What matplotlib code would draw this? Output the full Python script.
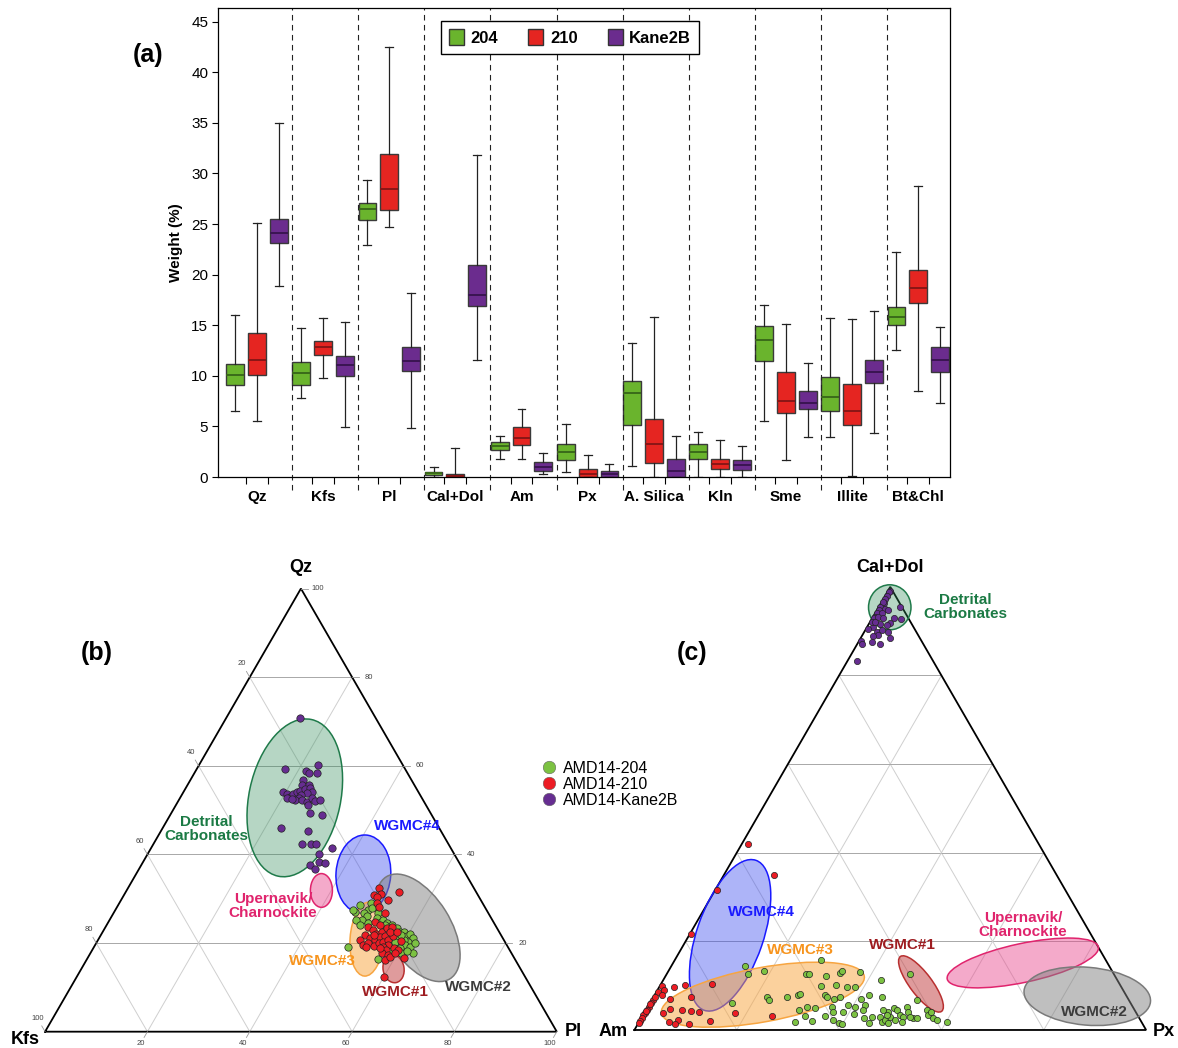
import matplotlib
matplotlib.use('Agg')
import matplotlib.pyplot as plt
from matplotlib.patches import Ellipse, Patch
from matplotlib.lines import Line2D
import numpy as np

plt.rcParams['font.family'] = ['Liberation Sans', 'DejaVu Sans']

W, H = 1178, 1048

# ---------------- (a) box plot data (Weight %) ----------------
minerals = ['Qz', 'Kfs', 'Pl', 'Cal+Dol', 'Am', 'Px', 'A. Silica', 'Kln', 'Sme', 'Illite', 'Bt&Chl']
series = ['204', '210', 'Kane2B']
box_colors = ['#6ab42d', '#e52521', '#6b2c8e']
median_colors = ['#3a6a1a', '#8a1616', '#3a1552']

lo_204 = [6.5, 7.8, 22.9, 0.0, 1.8, 0.5, 1.1, 0.0, 5.5, 4.0, 12.6]
q1_204 = [9.1, 9.1, 25.4, 0.2, 2.7, 1.7, 5.1, 1.8, 11.5, 6.5, 15.0]
med_204 = [10.1, 10.3, 26.5, 0.35, 3.1, 2.5, 8.3, 2.5, 13.5, 7.9, 15.8]
q3_204 = [11.2, 11.4, 27.1, 0.5, 3.5, 3.3, 9.5, 3.3, 14.9, 9.9, 16.8]
hi_204 = [16.0, 14.7, 29.4, 1.0, 4.1, 5.2, 13.2, 4.4, 17.0, 15.7, 22.2]

lo_210 = [5.5, 9.8, 24.7, 0.0, 1.8, 0.0, 0.0, 0.0, 1.7, 0.1, 8.5]
q1_210 = [10.1, 12.1, 26.4, 0.0, 3.2, 0.0, 1.4, 0.8, 6.3, 5.1, 17.2]
med_210 = [11.6, 12.8, 28.5, 0.1, 3.9, 0.3, 3.3, 1.3, 7.5, 6.5, 18.7]
q3_210 = [14.2, 13.4, 31.9, 0.3, 4.9, 0.8, 5.7, 1.8, 10.4, 9.2, 20.5]
hi_210 = [25.1, 15.7, 42.5, 2.9, 6.7, 2.2, 15.8, 3.7, 15.1, 15.6, 28.8]

lo_kane = [18.9, 4.9, 4.8, 11.6, 0.3, 0.0, 0.0, 0.0, 4.0, 4.3, 7.3]
q1_kane = [23.1, 10.0, 10.5, 16.9, 0.6, 0.0, 0.0, 0.7, 6.7, 9.3, 10.4]
med_kane = [24.1, 11.1, 11.5, 18.0, 1.0, 0.3, 0.6, 1.2, 7.3, 10.4, 11.6]
q3_kane = [25.5, 12.0, 12.8, 21.0, 1.5, 0.6, 1.8, 1.7, 8.5, 11.6, 12.8]
hi_kane = [35.0, 15.3, 18.2, 31.8, 2.4, 1.3, 4.1, 3.1, 11.3, 16.4, 14.8]

# ---------------- (b) Qz - Kfs - Pl ternary (Qz %, Pl %; Kfs = rest) ----------------
b_kane_qz = [70.9, 59.2, 60.1, 58.8, 58.4, 58.4, 56.8, 55.6, 55.6, 54.2, 53.6, 53.0, 53.6, 54.0, 54.4,
             54.7, 54.9, 54.2, 53.8, 53.4, 52.7, 52.3, 52.3, 51.9, 52.7, 52.1, 52.3, 51.2, 52.7, 52.4,
             49.3, 48.8, 46.0, 45.4, 42.4, 42.4, 42.4, 41.4, 40.2, 38.3, 38.1, 37.7, 36.6]
b_kane_pl = [14.4, 17.2, 23.2, 21.6, 22.4, 24.0, 22.0, 22.5, 23.8, 19.3, 20.4, 21.4, 21.7, 22.2, 22.6,
             23.5, 24.3, 25.0, 24.2, 23.4, 23.2, 22.7, 24.0, 25.2, 25.8, 26.7, 27.6, 25.7, 20.9, 22.0,
             27.1, 29.7, 23.2, 28.6, 29.0, 30.8, 31.8, 35.4, 33.4, 34.3, 35.7, 32.9, 34.5]

b_210_qz = [32.4, 30.9, 31.0, 30.3, 31.5, 29.7, 29.0, 28.1, 26.7, 24.8, 24.1, 23.7, 22.9, 22.1, 22.6,
            23.3, 23.7, 21.8, 21.1, 20.7, 21.3, 21.6, 20.7, 19.6, 20.0, 19.4, 20.0, 20.3, 20.7, 21.5,
            19.6, 19.0, 18.4, 18.8, 18.4, 17.7, 17.3, 16.6, 16.2, 16.9, 17.7, 19.0, 12.3, 20.5, 21.8,
            22.6, 22.6, 18.8]
b_210_pl = [49.0, 48.9, 50.1, 49.8, 53.5, 52.2, 50.3, 51.3, 53.1, 52.0, 53.4, 51.3, 52.7, 53.7, 54.5,
            55.1, 55.9, 51.6, 52.9, 54.1, 54.8, 55.7, 51.2, 52.4, 53.2, 54.5, 55.2, 55.9, 56.7, 57.3,
            57.3, 56.5, 57.5, 58.7, 59.8, 56.9, 58.4, 61.8, 58.4, 58.9, 59.5, 53.3, 60.1, 59.4, 53.4,
            56.1, 57.5, 56.1]

b_204_qz = [29.0, 27.5, 26.7, 26.0, 25.2, 25.1, 24.1, 27.8, 26.7, 25.6, 24.8, 25.2, 24.6, 24.1, 23.3,
            22.6, 22.4, 21.6, 22.1, 21.1, 20.3, 20.7, 21.1, 20.3, 19.6, 19.0, 17.8, 18.8, 18.4, 18.4,
            17.7, 18.1, 19.0, 16.3, 22.6, 24.1, 20.0, 21.8, 27.1, 27.5, 28.6, 24.5]
b_204_pl = [49.2, 49.4, 49.0, 49.9, 49.3, 48.3, 49.5, 49.9, 51.8, 52.0, 53.3, 53.5, 54.5, 55.7, 57.1,
            58.1, 58.9, 59.9, 60.3, 61.4, 60.8, 59.7, 58.5, 58.2, 60.6, 61.8, 63.0, 60.0, 59.1, 58.1,
            60.8, 61.6, 49.7, 57.0, 56.5, 54.4, 62.3, 58.7, 47.0, 46.5, 47.3, 50.9]

# ---------------- (c) Cal+Dol - Am - Px ternary (Cal+Dol %, Px %; Am = rest) ----------------
c_kane_cal = [99.0, 98.9, 98.0, 97.3, 96.3, 96.5, 95.5, 94.8, 94.0, 93.3, 92.9, 95.1, 94.8, 94.0, 93.3,
              92.9, 92.9, 95.5, 92.7, 91.8, 91.4, 91.5, 91.0, 90.5, 89.9, 90.3, 89.9, 88.5, 89.1, 88.8,
              87.2, 87.6, 87.8, 87.2, 83.3, 92.1, 92.1]
c_kane_px = [0.5, 0.3, 0.4, 0.4, 0.6, 0.3, 0.3, 0.4, 0.4, 0.4, 0.4, 1.4, 2.2, 1.3, 1.0,
             2.2, 4.2, 4.1, 5.7, 4.1, 3.6, 2.2, 1.2, 0.4, 2.4, 3.2, 4.7, 5.7, 3.1, 2.3,
             4.4, 2.6, 0.4, 0.8, 1.8, 0.4, 1.0]

c_210_cal = [42.0, 35.0, 31.7, 21.7, 10.3, 10.0, 9.8, 9.0, 8.5, 8.0, 10.1, 7.1, 7.4, 6.8, 6.2,
             5.3, 4.5, 3.9, 3.3, 2.6, 2.1, 3.9, 4.7, 4.4, 4.3, 4.1, 3.9, 1.9, 2.3, 1.4,
             1.4, 2.1, 3.2, 5.8, 4.2, 7.5, 1.5]
c_210_px = [1.2, 9.7, 0.3, 0.3, 10.1, 0.3, 2.9, 1.3, 0.3, 1.3, 4.9, 3.5, 7.4, 0.3, 0.2,
            0.2, 0.2, 0.1, 0.1, 0.1, 0.1, 3.6, 4.7, 7.1, 8.9, 10.5, 17.7, 5.8, 7.3, 7.3,
            10.0, 13.7, 25.2, 0.2, 0.2, 0.3, 0.1]

c_204_cal = [14.5, 12.6, 13.4, 6.2, 7.5, 6.8, 7.5, 7.9, 8.1, 12.6, 12.6, 4.5, 5.3, 3.2, 1.7, 2.0,
             15.7, 12.2, 12.8, 13.2, 13.0, 11.3, 12.6, 9.9, 10.2, 9.8, 9.6, 7.9, 7.4, 6.9, 7.5,
             5.6, 5.3, 6.9, 7.9, 5.6, 7.5, 6.8, 4.9, 5.3, 4.1, 4.1, 3.6, 4.4, 2.6, 3.0,
             2.9, 2.3, 1.5, 1.4, 3.2, 1.5, 1.9, 2.3, 4.1, 4.9, 4.5, 3.0, 2.3, 3.4, 3.0,
             5.3, 4.1, 2.6, 3.0, 4.5, 3.4, 4.1, 2.6, 2.3, 1.9, 4.5, 3.4, 1.9, 1.5, 2.8]
c_204_px = [14.4, 15.8, 18.6, 15.9, 22.1, 22.9, 26.0, 28.1, 28.3, 27.2, 27.9, 29.9, 31.0, 31.8, 30.5, 33.8,
            28.6, 31.3, 33.7, 33.9, 37.5, 42.5, 47.6, 31.6, 34.3, 36.6, 38.3, 33.3, 33.9, 35.5, 36.4,
            39.0, 40.5, 40.9, 41.8, 42.2, 44.6, 51.8, 32.8, 35.9, 36.8, 38.8, 41.1, 42.4, 43.6, 44.9,
            46.6, 37.7, 39.3, 39.8, 35.7, 45.0, 47.4, 47.8, 47.6, 48.2, 49.0, 48.4, 49.8, 50.2, 51.0,
            50.6, 51.5, 53.2, 52.4, 54.9, 55.7, 56.0, 57.1, 57.9, 60.1, 46.4, 47.6, 51.3, 48.9, 53.8]

sample_labels = ['AMD14-204', 'AMD14-210', 'AMD14-Kane2B']


def fpos(x, y):
    return x / W, 1 - y / H


def tern_xy(top, right):
    top = np.asarray(top, float)
    right = np.asarray(right, float)
    return right + top / 2.0, top * np.sqrt(3) / 2.0


fig = plt.figure(figsize=(W / 100, H / 100), dpi=100)

# ================= (a) =================
ax = fig.add_axes([218 / W, 1 - 477 / H, 732 / W, 469 / H])
offsets = [-0.33, 0.0, 0.33]
all_stats = [(lo_204, q1_204, med_204, q3_204, hi_204),
             (lo_210, q1_210, med_210, q3_210, hi_210),
             (lo_kane, q1_kane, med_kane, q3_kane, hi_kane)]
centers = np.arange(len(minerals))
for k, (lo, q1, med, q3, hi) in enumerate(all_stats):
    stats = [dict(whislo=lo[i], q1=q1[i], med=med[i], q3=q3[i], whishi=hi[i], fliers=[])
             for i in range(len(minerals))]
    ax.bxp(stats, positions=centers + offsets[k], widths=0.27, patch_artist=True,
           showfliers=False, capwidths=0.12, manage_ticks=False,
           boxprops=dict(facecolor=box_colors[k], edgecolor='#3a3a3a', linewidth=1.0),
           medianprops=dict(color=median_colors[k], linewidth=1.4),
           whiskerprops=dict(color='#222222', linewidth=0.9),
           capprops=dict(color='#222222', linewidth=0.9))

for i in range(len(minerals) - 1):
    ax.axvline(i + 0.53, ymin=-0.028, ymax=1, color='#222222', lw=0.8, ls=(0, (5, 4)), clip_on=False)

ax.set_xlim(-0.59, 10.48)
ax.set_ylim(0, 46.35)
ax.set_yticks(np.arange(0, 46, 5))
ax.tick_params(axis='y', labelsize=11, length=4, width=0.8, pad=3)
ax.set_xticks(np.concatenate([centers - 0.165, centers + 0.165]))
ax.set_xticklabels([])
ax.tick_params(axis='x', which='major', length=5, width=0.8)
ax.set_xticks(centers, minor=True)
ax.set_xticklabels(minerals, minor=True, fontweight='bold', fontsize=11)
ax.tick_params(axis='x', which='minor', length=0, pad=9)
ax.set_ylabel('Weight (%)', fontweight='bold', fontsize=11, labelpad=6)
for s in ax.spines.values():
    s.set_linewidth(0.9)

handles = [Patch(facecolor=c, edgecolor='#333333') for c in box_colors]
ax.legend(handles, series, loc='upper center', bbox_to_anchor=(0.481, 0.99), ncol=3,
          frameon=True, fancybox=False, edgecolor='black', framealpha=1,
          prop={'weight': 'bold', 'size': 12}, handlelength=0.9, handleheight=1.1,
          handletextpad=0.4, columnspacing=1.8, borderpad=0.5)
fig.text(*fpos(148, 55), '(a)', fontsize=18, fontweight='bold', ha='center', va='center')


# ================= ternary helpers =================
def draw_ternary(ax, with_ticks):
    for f in (20, 40, 60, 80):
        for (t0, r0), (t1, r1) in [((f, 0), (f, 100 - f)),
                                   ((0, f), (100 - f, f)),
                                   ((0, 100 - f), (100 - f, 0))]:
            x0, y0 = tern_xy(t0, r0)
            x1, y1 = tern_xy(t1, r1)
            col = '#a8a8a8' if t0 == t1 else '#cfcfcf'
            ax.plot([x0, x1], [y0, y1], color=col, lw=0.7, zorder=1)
    tx, ty = tern_xy([0, 0, 100, 0], [0, 100, 0, 0])
    ax.plot(tx, ty, color='black', lw=1.3, zorder=2, solid_joinstyle='miter')
    if with_ticks:
        h = np.sqrt(3) / 2
        for f in (20, 40, 60, 80, 100):
            # right edge: top values
            x, y = tern_xy(f, 100 - f)
            d = np.array([1.0, 0.0])
            ax.plot([x, x + 1.3 * d[0]], [y, y + 1.3 * d[1]], color='#999999', lw=0.6)
            ax.text(x + 3.3 * d[0], y + 3.3 * d[1], str(f), fontsize=5.5, color='#444444',
                    ha='center', va='center')
            # left edge: left values
            x, y = tern_xy(100 - f, 0)
            d = np.array([-0.5, h])
            ax.plot([x, x + 1.3 * d[0]], [y, y + 1.3 * d[1]], color='#999999', lw=0.6)
            ax.text(x + 3.0 * d[0], y + 3.0 * d[1], str(f), fontsize=5.5, color='#444444',
                    ha='center', va='center')
            # bottom edge: right values
            x, y = tern_xy(0, f)
            d = np.array([-0.5, -h])
            ax.plot([x, x + 1.3 * d[0]], [y, y + 1.3 * d[1]], color='#999999', lw=0.6)
            ax.text(x + 2.6 * d[0], y + 2.6 * d[1], str(f), fontsize=5.5, color='#444444',
                    ha='center', va='center')


def add_ellipse(ax, u, v, w, h, ang, face, edge, alpha):
    ax.add_patch(Ellipse((u, v), w, h, angle=ang, facecolor=face, alpha=alpha,
                         edgecolor='none', zorder=3))
    ax.add_patch(Ellipse((u, v), w, h, angle=ang, facecolor='none', edgecolor=edge,
                         lw=1.1, zorder=3))


pt_colors = ['#7cc242', '#ec1c24', '#662d91']

# ================= (b) =================
axb = fig.add_axes([0, 1 - 1048 / H, 590 / W, 498 / H])
axb.set_xlim(-8.81, 106.49)
axb.set_ylim(-3.19, 94.14)
axb.axis('off')
draw_ternary(axb, True)
add_ellipse(axb, 48.8, 45.7, 17.9, 31.3, -12, '#2e8b57', '#1f7a4a', 0.35)
add_ellipse(axb, 54.0, 27.6, 4.3, 6.6, 0, '#e8438a', '#e0246d', 0.45)
add_ellipse(axb, 62.2, 30.8, 10.7, 15.3, -4, '#3344ee', '#1a1aff', 0.4)
add_ellipse(axb, 72.9, 20.3, 12.6, 23.5, 32, '#808080', '#7a7a7a', 0.5)
add_ellipse(axb, 62.9, 18.1, 6.6, 14.5, -4, '#f9a43c', '#f7a541', 0.5)
add_ellipse(axb, 68.1, 12.3, 4.1, 5.5, 10, '#c0393b', '#b83030', 0.5)

for qz, pl, c in [(b_kane_qz, b_kane_pl, pt_colors[2]),
                  (b_204_qz, b_204_pl, pt_colors[0]),
                  (b_210_qz, b_210_pl, pt_colors[1])]:
    x, y = tern_xy(qz, pl)
    axb.scatter(x, y, s=28, color=c, edgecolors='#222222', linewidths=0.5, zorder=5)

# ================= (c) =================
axc = fig.add_axes([590 / W, 1 - 1048 / H, 588 / W, 498 / H])
axc.set_xlim(-8.68, 106.23)
axc.set_ylim(-3.52, 93.8)
axc.axis('off')
draw_ternary(axc, False)
add_ellipse(axc, 49.9, 82.6, 8.3, 8.8, 0, '#2e8b57', '#1f7a4a', 0.35)
add_ellipse(axc, 18.7, 18.5, 13.0, 31.0, -19, '#3344ee', '#1a1aff', 0.4)
add_ellipse(axc, 25.1, 6.9, 40.3, 10.6, 10.4, '#f9a43c', '#f7a541', 0.5)
add_ellipse(axc, 56.0, 9.0, 4.3, 13.4, 37, '#c0393b', '#b83030', 0.5)
add_ellipse(axc, 75.9, 13.1, 30.2, 7.6, 12, '#e8438a', '#e0246d', 0.45)
add_ellipse(axc, 88.5, 6.6, 24.8, 11.3, -5, '#808080', '#7a7a7a', 0.5)

for cal, px, c in [(c_kane_cal, c_kane_px, pt_colors[2]),
                   (c_204_cal, c_204_px, pt_colors[0]),
                   (c_210_cal, c_210_px, pt_colors[1])]:
    x, y = tern_xy(cal, px)
    axc.scatter(x, y, s=20, color=c, edgecolors='#222222', linewidths=0.5, zorder=5)

# ================= labels =================
lab = dict(fontsize=11, fontweight='bold', ha='center', va='center', linespacing=1.0, zorder=10)
fig.text(*fpos(97, 653), '(b)', fontsize=18, fontweight='bold', ha='center', va='center')
fig.text(*fpos(692, 653), '(c)', fontsize=18, fontweight='bold', ha='center', va='center')
fig.text(*fpos(301, 568), 'Qz', fontsize=13, fontweight='bold', ha='center', va='center')
fig.text(*fpos(25, 1039), 'Kfs', fontsize=13, fontweight='bold', ha='center', va='center')
fig.text(*fpos(573, 1031), 'Pl', fontsize=13, fontweight='bold', ha='center', va='center')
fig.text(*fpos(890, 567), 'Cal+Dol', fontsize=13, fontweight='bold', ha='center', va='center')
fig.text(*fpos(613, 1032), 'Am', fontsize=13, fontweight='bold', ha='center', va='center')
fig.text(*fpos(1164, 1032), 'Px', fontsize=13, fontweight='bold', ha='center', va='center')

fig.text(*fpos(206, 829), 'Detrital\nCarbonates', color='#1b7a44', **lab)
fig.text(*fpos(407, 826), 'WGMC#4', color='#1a1aff', **lab)
fig.text(*fpos(273, 906), 'Upernavik/\nCharnockite', color='#e0246d', **lab)
fig.text(*fpos(322, 961), 'WGMC#3', color='#f7941d', **lab)
fig.text(*fpos(395, 992), 'WGMC#1', color='#9e1c20', **lab)
fig.text(*fpos(478, 987), 'WGMC#2', color='#3c3c3c', **lab)

fig.text(*fpos(965, 607), 'Detrital\nCarbonates', color='#1b7a44', **lab)
fig.text(*fpos(761, 912), 'WGMC#4', color='#1a1aff', **lab)
fig.text(*fpos(800, 950), 'WGMC#3', color='#f7941d', **lab)
fig.text(*fpos(902, 945), 'WGMC#1', color='#9e1c20', **lab)
fig.text(*fpos(1023, 925), 'Upernavik/\nCharnockite', color='#e0246d', **lab)
fig.text(*fpos(1094, 1012), 'WGMC#2', color='#3c3c3c', **lab)

leg_handles = [Line2D([], [], marker='o', ls='none', markersize=9, markerfacecolor=c,
                      markeredgecolor='#666666', markeredgewidth=0.4) for c in pt_colors]
fig.legend(leg_handles, sample_labels, loc='upper left', bbox_to_anchor=fpos(531, 753),
           frameon=False, fontsize=11.5, handletextpad=0.3, labelspacing=0.05,
           borderpad=0, handlelength=1.2)

fig.savefig('out.png', dpi=100)
